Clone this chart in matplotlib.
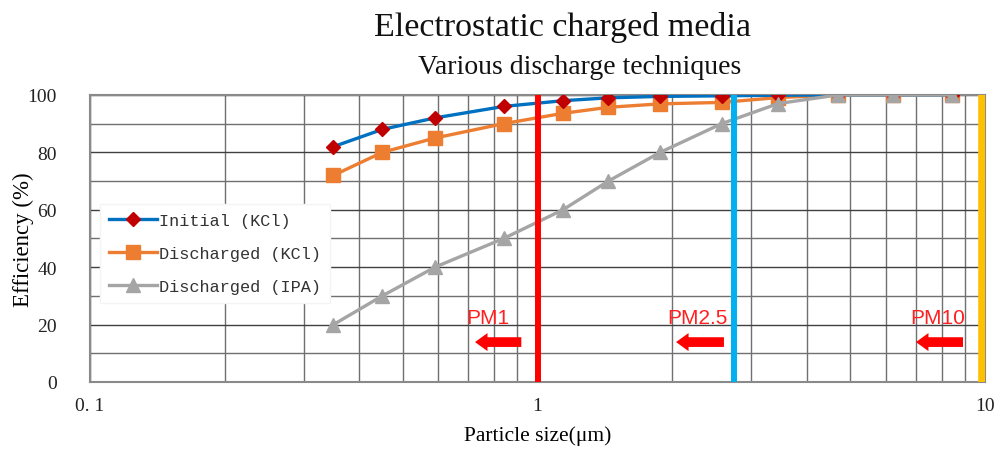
import matplotlib
matplotlib.use("Agg")
import matplotlib.pyplot as plt
from matplotlib.ticker import LogLocator, FixedLocator, NullFormatter

# ---- data ----
sizes = [0.35, 0.45, 0.59, 0.84, 1.14, 1.44, 1.88, 2.58, 3.45, 4.69, 6.23, 8.44]
initial_kcl = [82, 88, 92, 96, 98, 99, 99.5, 99.7, 99.9, 100, 100, 100]
discharged_kcl = [72, 80, 85, 90, 93.6, 95.7, 96.9, 97.4, 99.1, 100, 100, 100]
discharged_ipa = [20, 30, 40, 50, 60, 70, 80, 90, 97, 100, 100, 100]
series_labels = ["Initial (KCl)", "Discharged (KCl)", "Discharged (IPA)"]
pm_labels = ["PM1", "PM2.5", "PM10"]
pm_lines = [1.0, 2.75, 9.85]
pm_arrow_start = [0.92, 2.61, 8.93]
pm_arrow_end = [0.725, 2.04, 7.01]
pm_text_x = [0.775, 2.28, 7.85]
yticks = [0, 20, 40, 60, 80, 100]
xtick_vals = [0.1, 1, 10]
xtick_labels = ["0. 1", "1", "10"]

fig = plt.figure(figsize=(10, 4.52), dpi=100)
ax = fig.add_axes([0.09, 0.1527, 0.895, 0.635])

ax.set_xscale("log")
ax.set_xlim(0.1, 10)
ax.set_ylim(0, 100)

# grid
ax.set_yticks(yticks)
ax.yaxis.set_minor_locator(FixedLocator([10, 30, 50, 70, 90]))
ax.xaxis.set_major_locator(FixedLocator(xtick_vals))
ax.xaxis.set_minor_locator(LogLocator(base=10, subs=range(2, 10)))
ax.xaxis.set_minor_formatter(NullFormatter())
ax.set_xticklabels(xtick_labels)
ax.grid(True, which="major", color="#404040", lw=1.0, zorder=0)
ax.grid(True, which="minor", color="#707070", lw=1.0, zorder=0)
ax.set_axisbelow(True)
ax.tick_params(which="both", length=0)
ax.tick_params(axis="y", pad=24)
ax.tick_params(axis="x", pad=11)
for lab in ax.get_xticklabels() + ax.get_yticklabels():
    lab.set_fontfamily("Liberation Serif")
    lab.set_fontsize(14)
    lab.set_color("#222222")
for s in ax.spines.values():
    s.set_color("#8a8a8a")
    s.set_linewidth(1.5)

# series
ax.plot(sizes, initial_kcl, color="#0070C0", lw=2.4, marker="D", ms=7,
        mfc="#C00000", mec="#C00000", label=series_labels[0], zorder=5)
ax.plot(sizes, discharged_kcl, color="#ED7D31", lw=2.4, marker="s", ms=10,
        mfc="#ED7D31", mec="#ED7D31", label=series_labels[1], zorder=4)
ax.plot(sizes, discharged_ipa, color="#A5A5A5", lw=2.4, marker="^", ms=10,
        mfc="#A5A5A5", mec="#A5A5A5", label=series_labels[2], zorder=6)

# PM lines
pm_colors = ["#FF0000", "#00B0F0", "#FFC000"]
pm_widths = [4.3, 4.3, 5.5]
for x, c, w in zip(pm_lines, pm_colors, pm_widths):
    ax.axvline(x, color=c, lw=w, zorder=7)

for xs, xe, xt, lab in zip(pm_arrow_start, pm_arrow_end, pm_text_x, pm_labels):
    ax.annotate("", xy=(xe, 13.9), xytext=(xs, 13.9),
                arrowprops=dict(arrowstyle="simple,head_width=1.3,head_length=0.9,tail_width=0.7",
                                color="#FF0000", lw=0, shrinkA=0, shrinkB=0), zorder=8)
    ax.text(xt, 22.6, lab, color="#FF2020", fontsize=15, family="Liberation Sans",
            ha="center", va="center", zorder=8)

leg = ax.legend(loc="upper left", bbox_to_anchor=(0.011, 0.62), frameon=True,
                prop={"family": "Liberation Mono", "size": 12.2},
                handlelength=2.8, handletextpad=0.15, labelspacing=1.05,
                borderpad=0.55, fancybox=False, borderaxespad=0)
leg.get_frame().set_edgecolor("#f4f4f4")
leg.get_frame().set_facecolor("white")
leg.get_frame().set_alpha(1)
leg.set_zorder(10)
for t in leg.get_texts():
    t.set_color("#333333")

ax.set_xlabel("Particle size(μm)", family="Liberation Serif", fontsize=15.5, labelpad=8)
ax.set_ylabel("Efficiency (%)", family="Liberation Serif", fontsize=16.5)
ax.yaxis.set_label_coords(-0.063, 0.5)

fig.text(0.563, 0.94, "Electrostatic charged media", family="Liberation Serif",
         fontsize=24.5, ha="center", va="center", color="#111111")
fig.text(0.58, 0.85, "Various discharge techniques", family="Liberation Serif",
         fontsize=20, ha="center", va="center", color="#111111")

fig.savefig("out.png", dpi=100)
